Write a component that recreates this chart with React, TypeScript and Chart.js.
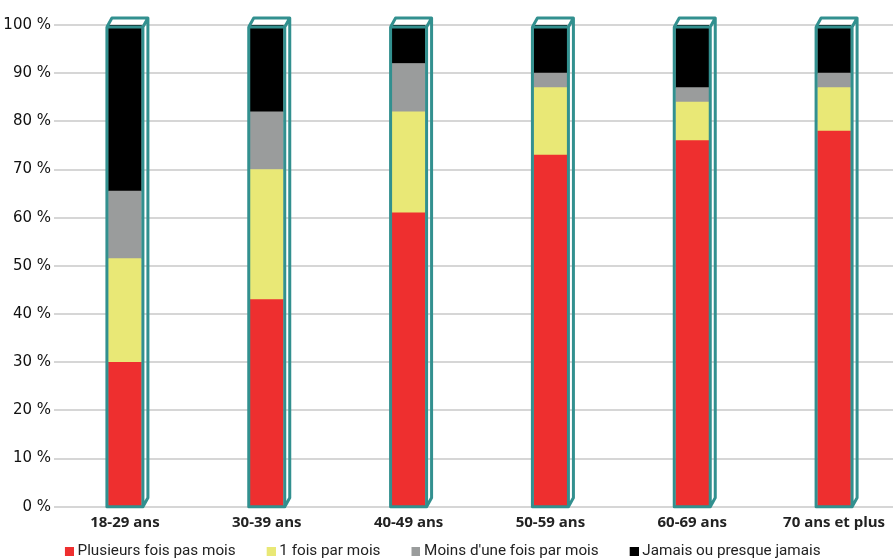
import React, { useEffect, useRef } from "react";
import { Chart, registerables } from "chart.js";

Chart.register(...registerables);

const categories = ["18-29 ans", "30-39 ans", "40-49 ans", "50-59 ans", "60-69 ans", "70 ans et plus"];
const seriesNames = ["Plusieurs fois pas mois", "1 fois par mois", "Moins d'une fois par mois", "Jamais ou presque jamais"];
const plusieurs = [30, 43, 61, 73, 76, 78];
const uneFois = [21.5, 27, 21, 14, 8, 9];
const moins = [14, 12, 10, 3, 3, 3];
const jamais = [34.5, 18, 8, 10, 13, 10];
const yTicks = [0, 10, 20, 30, 40, 50, 60, 70, 80, 90, 100];

const colors = ["#ee2f2f", "#e9e876", "#9a9c9c", "#000000"];
const TEAL = "#32908f";

// legend marker: transparent lead-in then a small square at the right
function makeMarker(color: string, width: number, size: number) {
  const c = document.createElement("canvas");
  c.width = width;
  c.height = size;
  const g = c.getContext("2d")!;
  g.fillStyle = color;
  g.fillRect(width - size, 0, size, size);
  return c;
}

const tubePlugin = {
  id: "tubes",
  afterDatasetsDraw(chart: any) {
    const { ctx, scales } = chart;
    const xs = scales.x;
    const ys = scales.y;
    const meta = chart.getDatasetMeta(0);
    ctx.save();
    ctx.strokeStyle = TEAL;
    ctx.lineWidth = 3;
    ctx.lineJoin = "round";
    categories.forEach((_, i) => {
      const el = meta.data[i];
      const cx = xs.getPixelForValue(i);
      const half = (el ? el.width : 34) / 2 + 1.5;
      const l = cx - half;
      const r = cx + half;
      const t = ys.getPixelForValue(yTicks[yTicks.length - 1]) + 2;
      const b = ys.getPixelForValue(yTicks[0]);
      const dx = 5;
      const dy = -9;
      ctx.beginPath();
      ctx.rect(l, t, r - l, b - t);
      ctx.moveTo(l, t);
      ctx.lineTo(l + dx, t + dy);
      ctx.lineTo(r + dx, t + dy);
      ctx.lineTo(r, t);
      ctx.moveTo(r + dx, t + dy);
      ctx.lineTo(r + dx, b + dy);
      ctx.lineTo(r, b);
      ctx.stroke();
    });
    ctx.restore();
  },
};

export default function App() {
  const ref = useRef<HTMLCanvasElement | null>(null);
  useEffect(() => {
    if (!ref.current) return;
    const values = [plusieurs, uneFois, moins, jamais];
    const BOX = 30;
    const SQ = 9;
    const markers = colors.map((c) => makeMarker(c, BOX + 8, SQ));
    const PAD_LEFT = -44.5;
    const chart = new Chart(ref.current, {
      type: "bar",
      data: {
        labels: categories,
        datasets: values.map((v, k) => ({
          label: seriesNames[k],
          data: v,
          backgroundColor: colors[k],
          borderWidth: 0,
          barThickness: 33,
        })),
      },
      options: {
        responsive: false,
        animation: false,
        layout: { padding: { top: 25, right: 7, left: PAD_LEFT, bottom: -9 } },
        plugins: {
          tooltip: { enabled: false },
          legend: {
            position: "bottom",
            labels: {
              usePointStyle: true,
              pointStyleWidth: BOX,
              boxHeight: SQ,
              padding: 6,
              color: "#222",
              font: { family: "Roboto", size: 15.25 },
              generateLabels: (ch: any) =>
                (Chart as any).defaults.plugins.legend.labels
                  .generateLabels(ch)
                  .map((it: any, i: number) => ({ ...it, pointStyle: markers[i] })),
            },
          },
        },
        scales: {
          x: {
            stacked: true,
            afterFit: (s: any) => {
              s.height = 31;
            },
            grid: { display: false, drawTicks: false },
            border: { display: false },
            ticks: {
              color: "#222",
              padding: 7,
              font: { family: "Open Sans", size: 15, weight: "bold" },
            },
          },
          y: {
            stacked: true,
            min: 0,
            max: 100,
            afterFit: (s: any) => {
              s.width = 54 - PAD_LEFT;
            },
            afterBuildTicks: (s: any) => {
              s.ticks = yTicks.map((v) => ({ value: v }));
            },
            grid: { color: "#d6d6d6", lineWidth: 2, drawTicks: false },
            border: { display: false },
            ticks: {
              color: "#111",
              padding: 3,
              font: { family: "DejaVu Sans", size: 15 },
              callback: (v: any) => `${v} %`,
            },
          },
        },
      },
      plugins: [tubePlugin],
    });
    return () => chart.destroy();
  }, []);
  return (
    <div
      style={{
        position: "fixed",
        left: 0,
        top: 0,
        width: 893,
        height: 560,
        overflow: "hidden",
        background: "#fff",
      }}
    >
      <canvas ref={ref} width={912} height={560} style={{ display: "block", width: 912, height: 560 }} />
    </div>
  );
}
